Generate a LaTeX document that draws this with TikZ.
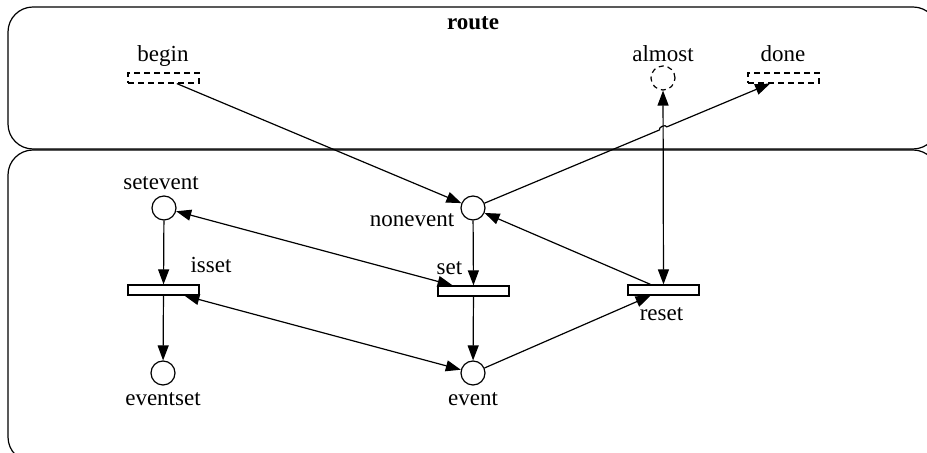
\documentclass[tikz,border=0pt]{standalone}
\usepackage{fontspec}
\setmainfont{Liberation Serif}
\usetikzlibrary{arrows.meta,calc}

\begin{document}
\begin{tikzpicture}[x=0.5pt,y=-0.5pt,line width=0.6pt,
    >={Triangle[length=7.5pt,width=5.5pt]},
    font=\fontsize{11.5}{13}\selectfont]

        \useasboundingbox (0,0) rectangle (927,453);

        % the two modules
        \draw[rounded corners=12.5pt] (8,7) rectangle (938,149);
        \draw[rounded corners=12.5pt] (8,150) rectangle (938,462);

        \begin{scope}[every node/.style={circle,draw,minimum size=12pt,inner sep=0pt}]
          \node (setevent) at (164,208) {};
          \node (nonevent) at (473,208) {};
          \node (eventset) at (163,373) {};
          \node (event)    at (473,373) {};
          \node[dash pattern=on 2.5pt off 2pt] (almost) at (663,78) {};
        \end{scope}

        \begin{scope}[every node/.style={rectangle,draw,minimum width=35.5pt,minimum height=5pt,inner sep=0pt}]
          \node (isset) at (163.5,290) {};
          \node (set)   at (473.5,291) {};
          \node (reset) at (663.5,290) {};
          \node[dash pattern=on 3pt off 2pt] (begin) at (163.5,78) {};
          \node[dash pattern=on 3pt off 2pt] (done)  at (783.5,78) {};
        \end{scope}

        \begin{scope}[every node/.style={anchor=base,inner sep=0pt}]
          \node (route-l)    at (473,30)    {\textbf{route}};
          \node (begin-l)    at (163,62)    {begin};
          \node (almost-l)   at (663,62)    {almost};
          \node (done-l)     at (783,62)    {done};
          \node (setevent-l) at (161,190)   {setevent};
          \node (nonevent-l) at (412,227)   {nonevent};
          \node (isset-l)    at (211,273)   {isset};
          \node (set-l)      at (449.5,275) {set};
          \node (reset-l)    at (661.5,321) {reset};
          \node (eventset-l) at (163,406)   {eventset};
          \node (event-l)    at (473,406)   {event};
        \end{scope}

        \begin{scope}[every edge/.style={draw,->}]
          \path (begin)    edge (nonevent);
          \path (nonevent) edge (set);
          \path (set)      edge (event);
          \path (setevent) edge (isset);
          \path (isset)    edge (eventset);
          \path (event)    edge (reset);
          \path (reset)    edge (nonevent);
          \path (setevent) edge[<->] (set);
          \path (isset)    edge[<->] (event);
          \path (reset)    edge[<->] (almost);
        \end{scope}

        % nonevent to done, hopping over the reset line
        \coordinate (hop) at (intersection of nonevent--done and almost--reset);
        \draw[->] (nonevent) -- ($(hop)!2pt!(nonevent)$)
          to[bend left=90] ($(hop)!2pt!(done)$) -- (done);

      \end{tikzpicture}
\end{document}
